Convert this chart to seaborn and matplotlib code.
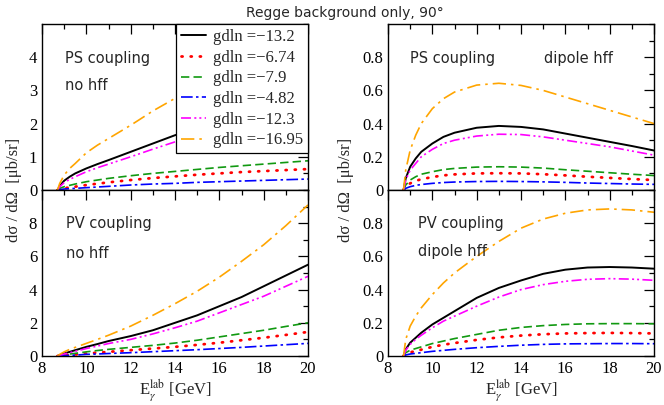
import numpy as np
import pandas as pd
import matplotlib
matplotlib.use("Agg")
import matplotlib.pyplot as plt
import seaborn as sns
from matplotlib.ticker import MultipleLocator

sns.set_theme(style="white")
plt.rcParams["font.family"] = ["DejaVu Sans"]
plt.rcParams["mathtext.fontset"] = "stix"

# ---------------- data ----------------
E = [8.7, 8.8, 9.0, 9.25, 9.5, 10, 10.5, 11, 12, 13, 14, 15, 16, 17, 18, 19, 20]
labels = ["gdln =\u221213.2", "gdln =\u22126.74", "gdln =\u22127.9",
          "gdln =\u22124.82", "gdln =\u221212.3", "gdln =\u221216.95"]

# PS coupling, no hff
ps_no_black = [0, 0.12, 0.28, 0.40, 0.50, 0.65, 0.78, 0.90, 1.15, 1.40, 1.65, 1.85, 2.05, 2.25, 2.42, 2.58, 2.72]
ps_no_red = [0, 0.02, 0.05, 0.08, 0.10, 0.15, 0.19, 0.23, 0.30, 0.36, 0.41, 0.46, 0.50, 0.54, 0.57, 0.60, 0.63]
ps_no_green = [0, 0.05, 0.10, 0.14, 0.18, 0.25, 0.30, 0.35, 0.43, 0.50, 0.56, 0.62, 0.68, 0.73, 0.78, 0.83, 0.88]
ps_no_blue = [0, 0.01, 0.03, 0.04, 0.05, 0.07, 0.09, 0.11, 0.15, 0.18, 0.20, 0.23, 0.25, 0.27, 0.29, 0.31, 0.33]
ps_no_magenta = [0, 0.10, 0.22, 0.32, 0.40, 0.55, 0.67, 0.78, 1.00, 1.23, 1.45, 1.65, 1.83, 2.00, 2.15, 2.30, 2.43]
ps_no_orange = [0, 0.20, 0.45, 0.65, 0.80, 1.12, 1.35, 1.55, 1.95, 2.38, 2.76, 3.10, 3.40, 3.67, 3.92, 4.15, 4.35]

# PS coupling, dipole hff
ps_di_black = [0, 0.07, 0.14, 0.19, 0.23, 0.28, 0.32, 0.345, 0.375, 0.386, 0.38, 0.365, 0.34, 0.315, 0.29, 0.265, 0.238]
ps_di_red = [0, 0.02, 0.04, 0.055, 0.065, 0.078, 0.088, 0.094, 0.10, 0.101, 0.10, 0.095, 0.088, 0.08, 0.073, 0.066, 0.06]
ps_di_green = [0, 0.03, 0.06, 0.08, 0.095, 0.11, 0.123, 0.13, 0.138, 0.14, 0.138, 0.132, 0.122, 0.113, 0.104, 0.095, 0.087]
ps_di_blue = [0, 0.01, 0.02, 0.028, 0.033, 0.04, 0.045, 0.048, 0.051, 0.052, 0.051, 0.049, 0.046, 0.042, 0.039, 0.036, 0.034]
ps_di_magenta = [0, 0.06, 0.12, 0.16, 0.20, 0.245, 0.28, 0.30, 0.325, 0.336, 0.334, 0.32, 0.30, 0.28, 0.26, 0.235, 0.21]
ps_di_orange = [0, 0.12, 0.24, 0.33, 0.40, 0.49, 0.55, 0.59, 0.632, 0.643, 0.63, 0.60, 0.56, 0.52, 0.48, 0.44, 0.40]

# PV coupling, no hff
pv_no_black = [0, 0.05, 0.15, 0.25, 0.35, 0.55, 0.72, 0.90, 1.20, 1.55, 2.00, 2.45, 3.00, 3.55, 4.20, 4.85, 5.50]
pv_no_red = [0, 0.01, 0.03, 0.06, 0.09, 0.15, 0.20, 0.25, 0.35, 0.45, 0.55, 0.67, 0.80, 0.95, 1.10, 1.27, 1.45]
pv_no_green = [0, 0.03, 0.07, 0.12, 0.16, 0.25, 0.33, 0.40, 0.52, 0.64, 0.78, 0.95, 1.15, 1.35, 1.55, 1.78, 2.00]
pv_no_blue = [0, 0.01, 0.02, 0.04, 0.05, 0.10, 0.12, 0.15, 0.20, 0.26, 0.32, 0.38, 0.45, 0.52, 0.60, 0.68, 0.76]
pv_no_magenta = [0, 0.04, 0.12, 0.20, 0.28, 0.45, 0.60, 0.75, 1.00, 1.33, 1.70, 2.10, 2.60, 3.10, 3.60, 4.20, 4.80]
pv_no_orange = [0, 0.10, 0.25, 0.40, 0.52, 0.76, 1.00, 1.25, 1.80, 2.45, 3.15, 3.90, 4.75, 5.70, 6.70, 7.85, 9.10]

# PV coupling, dipole hff
pv_di_black = [0, 0.04, 0.08, 0.11, 0.14, 0.19, 0.23, 0.27, 0.35, 0.41, 0.455, 0.495, 0.52, 0.533, 0.536, 0.533, 0.526]
pv_di_red = [0, 0.012, 0.022, 0.03, 0.038, 0.055, 0.068, 0.078, 0.097, 0.112, 0.123, 0.131, 0.136, 0.138, 0.139, 0.138, 0.136]
pv_di_green = [0, 0.02, 0.035, 0.045, 0.055, 0.075, 0.09, 0.105, 0.13, 0.155, 0.172, 0.183, 0.19, 0.194, 0.195, 0.195, 0.194]
pv_di_blue = [0, 0.006, 0.012, 0.016, 0.02, 0.028, 0.034, 0.04, 0.05, 0.058, 0.065, 0.07, 0.073, 0.074, 0.075, 0.075, 0.074]
pv_di_magenta = [0, 0.035, 0.07, 0.10, 0.125, 0.17, 0.21, 0.24, 0.30, 0.355, 0.40, 0.43, 0.45, 0.462, 0.466, 0.463, 0.456]
pv_di_orange = [0, 0.10, 0.18, 0.24, 0.29, 0.37, 0.44, 0.50, 0.60, 0.69, 0.77, 0.825, 0.86, 0.88, 0.886, 0.88, 0.866]

panels = [
    dict(series=[ps_no_black, ps_no_red, ps_no_green, ps_no_blue, ps_no_magenta, ps_no_orange],
         ylim=5, yticks=[0, 1, 2, 3, 4], ymin=0.5, texts=[("PS coupling", 0.086, 0.795), ("no hff", 0.086, 0.63)]),
    dict(series=[ps_di_black, ps_di_red, ps_di_green, ps_di_blue, ps_di_magenta, ps_di_orange],
         ylim=1, yticks=[0, 0.2, 0.4, 0.6, 0.8], ymin=0.1, texts=[("PS coupling", 0.083, 0.795), ("dipole hff", 0.585, 0.795)]),
    dict(series=[pv_no_black, pv_no_red, pv_no_green, pv_no_blue, pv_no_magenta, pv_no_orange],
         ylim=10, yticks=[0, 2, 4, 6, 8], ymin=1, texts=[("PV coupling", 0.09, 0.80), ("no hff", 0.09, 0.62)]),
    dict(series=[pv_di_black, pv_di_red, pv_di_green, pv_di_blue, pv_di_magenta, pv_di_orange],
         ylim=1, yticks=[0, 0.2, 0.4, 0.6, 0.8], ymin=0.1, texts=[("PV coupling", 0.113, 0.80), ("dipole hff", 0.113, 0.627)]),
]

colors = ["black", "#ff0000", "#119911", "#0000ff", "#ff00ff", "#ffa500"]
styles = ["-", (0, (0.4, 2.9)), (0, (5, 2.5)), (0, (7, 2, 1.5, 2)),
          (0, (6, 2, 1.2, 1.8, 1.2, 2)), (0, (8, 3, 1.5, 3))]
widths = [1.4, 2.0, 1.2, 1.2, 1.2, 1.2]

fig = plt.figure(figsize=(6.64, 4.05), dpi=100)
W, H = 664, 405
pos = [(42, 24), (388, 24), (42, 190), (388, 190)]
axes = []
serif = "Liberation Serif"
for (px, py), p in zip(pos, panels):
    ax = fig.add_axes([px / W, 1 - (py + 166) / H, 266 / W, 166 / H])
    axes.append(ax)
    for i, s in enumerate(p["series"]):
        df = pd.DataFrame({"E": E, "v": s})
        sns.lineplot(data=df, x="E", y="v", ax=ax, color=colors[i], linestyle=styles[i],
                     linewidth=widths[i], errorbar=None, sort=False, label=labels[i],
                     dash_capstyle="round" if i == 1 else "butt", legend=False)
    ax.set_xlim(8, 20)
    ax.set_ylim(0, p["ylim"])
    ax.set_xticks([8, 10, 12, 14, 16, 18, 20])
    ax.xaxis.set_minor_locator(MultipleLocator(1))
    ax.set_yticks(p["yticks"])
    ax.set_yticklabels([("%g" % t) for t in p["yticks"]])
    ax.yaxis.set_minor_locator(MultipleLocator(p["ymin"]))
    ax.tick_params(which="both", direction="in", top=True, right=True, colors="black",
                   labelsize=12)
    ax.tick_params(which="major", length=7, width=0.9)
    ax.tick_params(which="minor", length=3.5, width=0.9)
    for lab in ax.get_xticklabels() + ax.get_yticklabels():
        lab.set_fontfamily(serif)
    for sp in ax.spines.values():
        sp.set_color("black")
        sp.set_linewidth(1.0)
    ax.set_xlabel("")
    ax.set_ylabel("")
    for t, x, y in p["texts"]:
        ax.text(x, y, t, transform=ax.transAxes, fontsize=10.5, va="center", ha="left")

for ax in axes[:2]:
    ax.set_xticklabels([])

leg = axes[0].legend(loc="upper right", bbox_to_anchor=(1.0, 1.0), borderaxespad=0,
                     frameon=True, fancybox=False, framealpha=1, edgecolor="black",
                     prop={"family": serif, "size": 12}, handlelength=1.5,
                     handletextpad=0.4, labelspacing=0.28, borderpad=0.3)
leg.get_frame().set_linewidth(0.9)
leg.set_zorder(10)

fig.text(0.52, 0.985, "Regge background only, 90\u00b0", ha="center", va="top", fontsize=10)
for xl in (14 / W, 346 / W):
    fig.text(xl, 1 - 190 / H, "d\u03c3 / d\u03a9  [\u03bcb/sr]", rotation=90, ha="center",
             va="center", fontsize=12, family=serif)
for xc in ((42 + 133) / W, (388 + 133) / W):
    fig.text(xc, 1 - 390 / H, r"E$_{\gamma}^{\rm lab}$ [GeV]", ha="center", va="center",
             fontsize=12, family=serif)

fig.savefig("out.png", dpi=100)
